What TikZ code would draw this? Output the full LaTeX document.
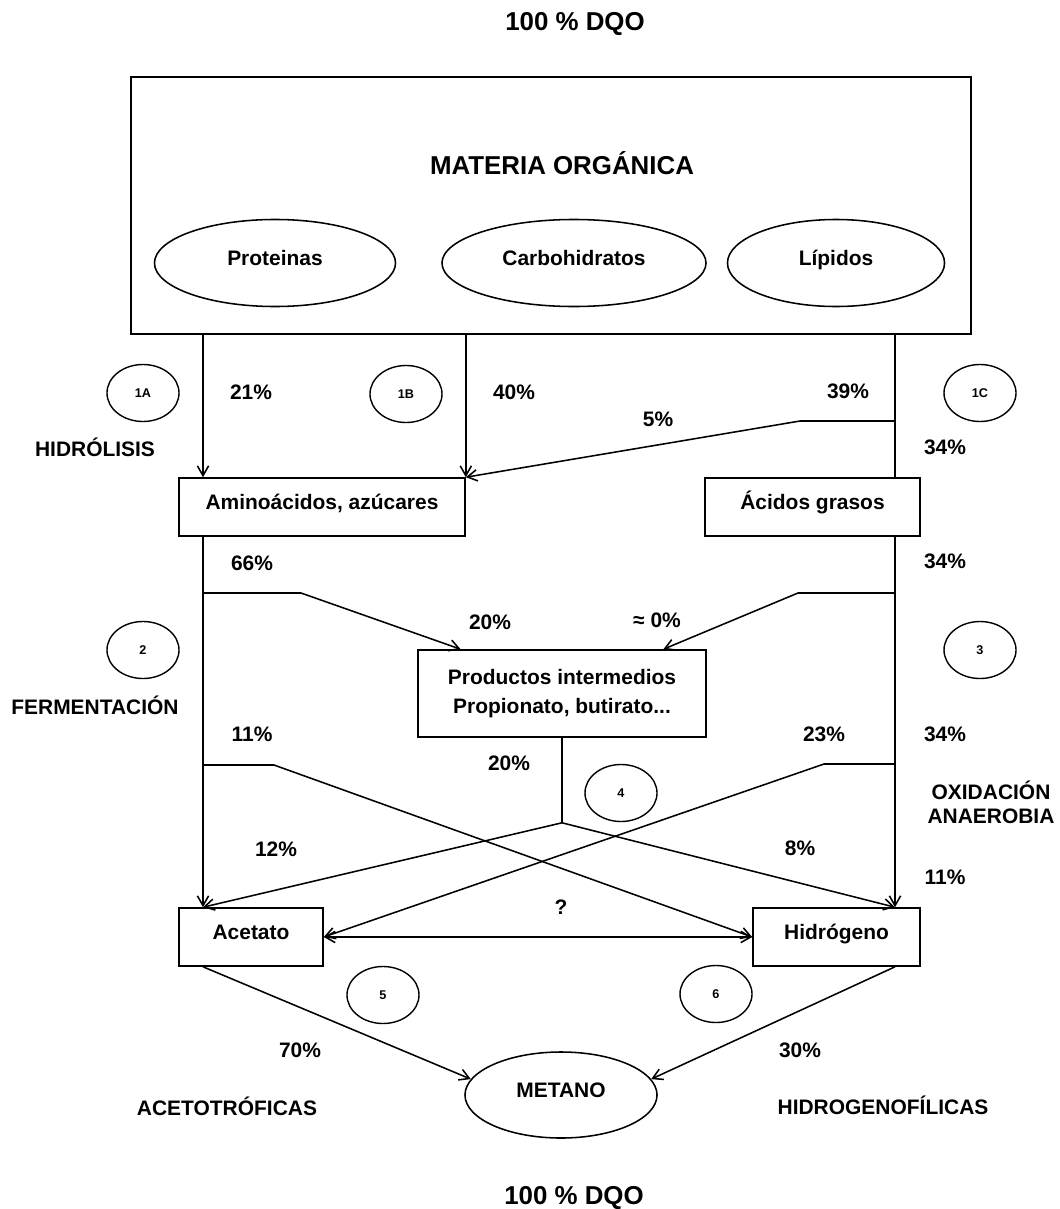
\documentclass[tikz,border=0pt]{standalone}
\usepackage{fontspec}
\setmainfont{Liberation Sans}
\usetikzlibrary{shapes.geometric,arrows.meta,calc}

\begin{document}
\begin{tikzpicture}[x=0.025cm,y=-0.025cm,
    every node/.style={font=\bfseries\fontsize{14.9}{18}\selectfont},
    caja/.style={draw,line width=1.1pt,inner sep=0pt,minimum height=1.45cm,text height=8pt,text depth=4pt},
    ovalo/.style={draw,ellipse,line width=1.1pt,inner sep=0pt,minimum height=2.175cm,text height=8pt,text depth=5pt},
    etapa/.style={draw,ellipse,line width=1pt,inner sep=0pt,minimum width=1.8cm,minimum height=1.425cm,
      font=\bfseries\fontsize{9}{10}\selectfont},
    pct/.style={inner sep=0pt,text depth=0pt},
    titulo/.style={inner sep=0pt,text depth=0pt,font=\bfseries\fontsize{18.4}{22}\selectfont},
    flujo/.style={line width=1.1pt},
    flecha/.style={flujo,-{Straight Barb[length=7pt,width=8pt]}}
  ]
  \useasboundingbox[fill=white] (0,0) rectangle (1059,1209);

  % columnas de los flujos verticales
  \coordinate (colL) at (203,0);
  \coordinate (colR) at (895,0);

  % materia orgánica
  \node[titulo] (dqoA) at (575,21) {100 \% DQO};
  \node[draw,line width=1.1pt,minimum width=21cm,minimum height=6.425cm] (materia) at (551,205.5) {};
  \node[titulo] (mo) at (562,163) {MATERIA ORGÁNICA};
  \node[ovalo,minimum width=6.025cm] (prot) at (275,263) {Proteinas};
  \node[ovalo,minimum width=6.6cm] (carb) at (574,263) {Carbohidratos};
  \node[ovalo,minimum width=5.425cm] (lip) at (836,263) {Lípidos};

  % productos
  \node[caja,minimum width=7.15cm] (amino) at (322,507) {Aminoácidos, azúcares};
  \node[caja,minimum width=5.375cm] (acidos) at (812.5,507) {Ácidos grasos};
  \node[draw,line width=1.1pt,inner sep=0pt,minimum width=7.2cm,minimum height=2.175cm,align=center,
    font=\bfseries\fontsize{14.9}{20.5}\selectfont] (prod) at (562,693.5)
    {Productos intermedios\\Propionato, butirato...};
  \node[caja,minimum width=3.6cm] (acetato) at (251,937) {Acetato};
  \node[caja,minimum width=4.175cm] (hidro) at (836.5,937) {Hidrógeno};
  \node[ovalo,minimum width=4.8cm,minimum height=2.15cm] (metano) at (561,1095) {METANO};
  \node[titulo] (dqoB) at (574,1195) {100 \% DQO};

  % etapas
  \node[etapa] (e1A) at (143,393) {1A};
  \node[etapa] (e1B) at (406,394) {1B};
  \node[etapa] (e1C) at (980,393) {1C};
  \node[etapa] (e2) at (143,650) {2};
  \node[etapa] (e3) at (980,650) {3};
  \node[etapa] (e4) at (621,793) {4};
  \node[etapa] (e5) at (383,995) {5};
  \node[etapa] (e6) at (716,994) {6};

  \node[pct] (hidrolisis) at (95,447) {HIDRÓLISIS};
  \node[pct] (ferment) at (95,705) {FERMENTACIÓN};
  \node[align=center,inner sep=0pt,font=\bfseries\fontsize{14.9}{17}\selectfont] (oxid) at (991,802) {OXIDACIÓN\\ANAEROBIA};
  \node[pct] (acetotr) at (227,1106) {ACETOTRÓFICAS};
  \node[pct] (hidrogen) at (883,1105) {HIDROGENOFÍLICAS};

  % porcentajes
  \node[pct] (p21) at (251,392) {21\%};
  \node[pct] (p40) at (514,392) {40\%};
  \node[pct] (p39) at (848,391) {39\%};
  \node[pct] (p5) at (658,419) {5\%};
  \node[pct] (p34a) at (945,447) {34\%};
  \node[pct] (p66) at (252,563) {66\%};
  \node[pct] (p34b) at (945,561) {34\%};
  \node[pct] (p20a) at (490,622) {20\%};
  \node[pct] (p0) at (657,620) {≈ 0\%};
  \node[pct] (p11a) at (252,734) {11\%};
  \node[pct] (p23) at (824,734) {23\%};
  \node[pct] (p34c) at (945,734) {34\%};
  \node[pct] (p20b) at (509,763) {20\%};
  \node[pct] (p12) at (276,849) {12\%};
  \node[pct] (p8) at (800,848) {8\%};
  \node[pct] (p11b) at (945,877) {11\%};
  \node[pct] (pq) at (561,907) {?};
  \node[pct] (p70) at (300,1050) {70\%};
  \node[pct] (p30) at (800,1050) {30\%};

  % hidrólisis
  \draw[flecha] (materia.south -| colL) -- (amino.north -| colL);
  \draw[flecha] (materia.south -| amino.north east) -- (amino.north east);
  \draw[flujo] (materia.south -| colR) -- (acidos.north -| colR);
  \coordinate (k5) at (895,421);
  \draw[flecha] (k5) -- ++(-95,0) -- (amino.north east);

  % fermentación y oxidación
  \draw[flecha] (amino.south -| colL) -- (acetato.north -| colL);
  \draw[flecha] (acidos.south -| colR) -- (hidro.north -| colR);
  \coordinate (k66) at (203,593);
  \draw[flecha] (k66) -- ++(98,0) -- ($(prod.north west)!0.15!(prod.north east)$);
  \coordinate (k34) at (895,593);
  \draw[flecha] (k34) -- ++(-97,0) -- ($(prod.north west)!0.85!(prod.north east)$);
  \coordinate (k11) at (203,765);
  \draw[flecha] (k11) -- ++(71,0) -- (hidro.west);
  \coordinate (k23) at (895,764);
  \draw[flecha] (k23) -- ++(-71,0) -- (acetato.east);

  % acetogénesis
  \coordinate (split) at ($(prod.south)+(0,85)$);
  \draw[flujo] (prod.south) -- (split);
  \draw[flecha] (split) -- (acetato.north -| colL);
  \draw[flecha] (split) -- (hidro.north -| colR);
  \draw[flujo,{Straight Barb[length=7pt,width=8pt]}-{Straight Barb[length=7pt,width=8pt]}] (acetato.east) -- (hidro.west);

  % metanogénesis
  \draw[flecha] (acetato.south -| colL) -- (metano.170);
  \draw[flecha] (hidro.south -| colR) -- (metano.10);
\end{tikzpicture}
\end{document}
